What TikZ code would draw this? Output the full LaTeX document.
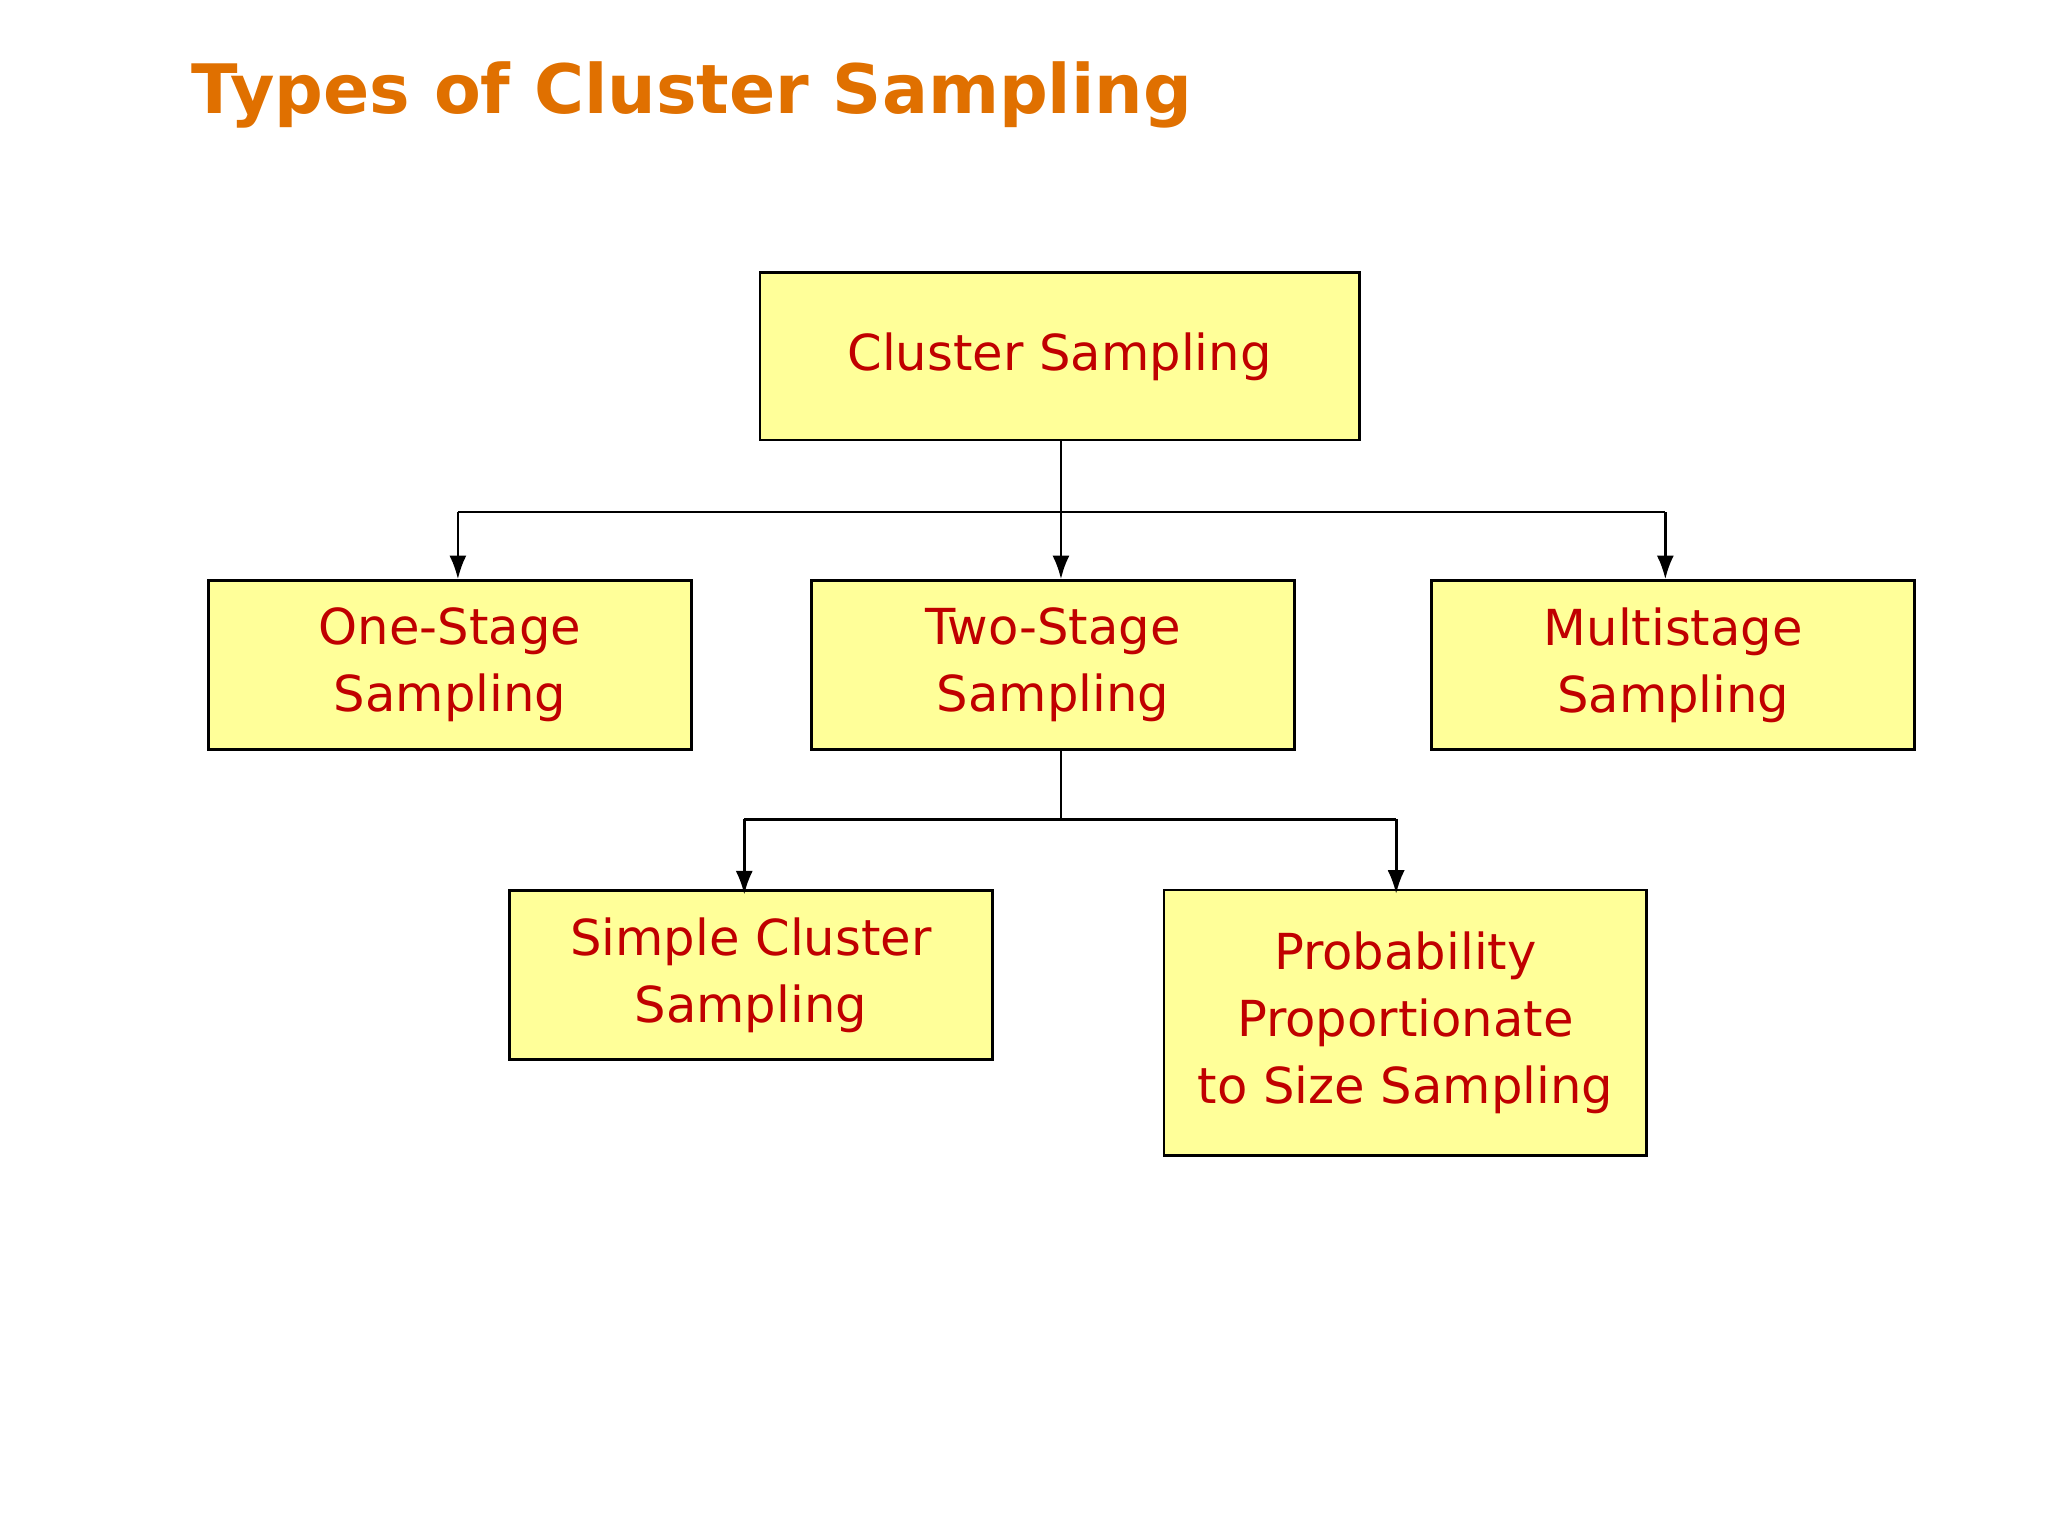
\documentclass[tikz,border=0pt]{standalone}
\usepackage{fontspec}
\setmainfont{DejaVu Sans}
\usetikzlibrary{arrows.meta}
\definecolor{boxfill}{HTML}{FFFF99}
\definecolor{boxtext}{HTML}{C00000}
\definecolor{titleorange}{HTML}{E07000}
\begin{document}
\begin{tikzpicture}[x=0.1mm,y=-0.1mm,
  box/.style={draw=black, line width=0.6pt, fill=boxfill, text=boxtext,
    font=\fontsize{10.7pt}{14.5pt}\selectfont, align=center, inner sep=0pt},
  conn/.style={line width=0.6pt},
  arr/.style={conn, -{Latex[length=1.8mm,width=1.3mm]}}
]
\useasboundingbox (0,0) rectangle (1552,1164);
\node[anchor=base west, text=titleorange, font=\fontsize{14.7pt}{18pt}\selectfont\bfseries]
  (title) at (133,86) {Types of Cluster Sampling};

\node[box, minimum width=45.4mm, minimum height=12.7mm] (cs) at (803,270) {Cluster Sampling};
\node[box, minimum width=36.6mm, minimum height=12.8mm] (one) at (341,504) {One-Stage\\Sampling};
\node[box, minimum width=36.6mm, minimum height=12.8mm] (two) at (798,504) {Two-Stage\\Sampling};
\node[box, minimum width=36.6mm, minimum height=12.8mm] (multi) at (1268,504) {Multistage\\Sampling};
\node[box, minimum width=36.6mm, minimum height=12.8mm] (simple) at (569,739) {Simple Cluster\\Sampling};
\node[box, minimum width=36.6mm, minimum height=20.1mm] (pps) at (1065,775) {Probability\\Proportionate\\to Size Sampling};

\coordinate (j1) at (804,388);
\coordinate (l1) at (347,388);
\coordinate (r1) at (1262,388);
\coordinate (j2) at (804,621);
\coordinate (l2) at (564,621);
\coordinate (r2) at (1058,621);

\draw[conn] (cs.south -| j1) -- (j1);
\draw[conn] (l1) -- (r1);
\draw[arr] (l1) -- (l1 |- one.north);
\draw[arr] (j1) -- (j1 |- two.north);
\draw[arr] (r1) -- (r1 |- multi.north);
\draw[conn] (two.south -| j2) -- (j2);
\draw[conn] (l2) -- (r2);
\draw[arr] (l2) -- ([yshift=-0.4mm]l2 |- simple.north);
\draw[arr] (r2) -- ([yshift=-0.4mm]r2 |- pps.north);
\end{tikzpicture}
\end{document}
